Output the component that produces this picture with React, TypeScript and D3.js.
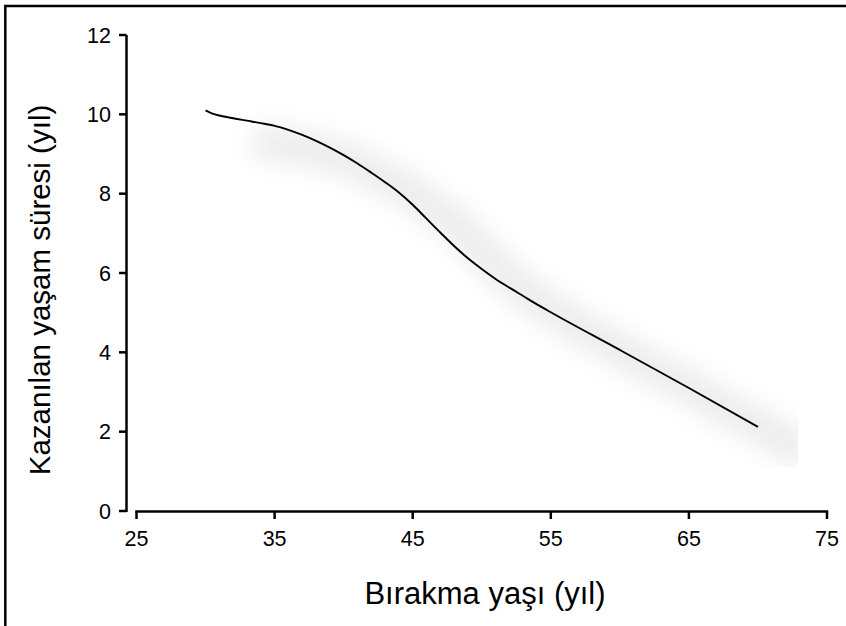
import React from "react";
import * as d3 from "d3";

const ages = [30, 30.5, 31, 32, 33, 34, 35, 36, 37, 38, 39, 40, 41, 42, 43, 44, 45, 46, 47, 48, 49, 50, 51, 52, 53, 54, 55, 60, 65, 70];
const gained = [10.1, 10.02, 9.97, 9.9, 9.84, 9.78, 9.71, 9.61, 9.48, 9.33, 9.16, 8.97, 8.76, 8.53, 8.29, 8.03, 7.72, 7.37, 7.02, 6.68, 6.37, 6.1, 5.85, 5.63, 5.42, 5.21, 5.01, 4.06, 3.1, 2.12];
const xTicks = [25, 35, 45, 55, 65, 75];
const yTicks = [0, 2, 4, 6, 8, 10, 12];
const xTitle = "Bırakma yaşı (yıl)";
const yTitle = "Kazanılan yaşam süresi (yıl)";

const W = 846;
const H = 626;
const FONT = "'Liberation Sans', Arial, Helvetica, sans-serif";

export default function App() {
  const x = d3.scaleLinear().domain([25, 75]).range([136.5, 827]);
  const y = d3.scaleLinear().domain([0, 12]).range([511, 35]);
  const pts = ages.map((a, i) => [a, gained[i]] as [number, number]);
  const line = d3
    .line<[number, number]>()
    .x((d) => x(d[0]))
    .y((d) => y(d[1]))
    .curve(d3.curveMonotoneX);
  const d = line(pts) || "";
  const axisX = 126.5;
  const axisY = 511.5;

  return (
    <svg
      width={W}
      height={H}
      style={{ position: "absolute", left: 0, top: 0, background: "#fff" }}
      fontFamily={FONT}
    >
      <defs>
        <filter id="sh" x="-30%" y="-30%" width="160%" height="160%">
          <feGaussianBlur stdDeviation="12" />
        </filter>
        <clipPath id="shclip">
          <rect x={0} y={0} width={798} height={467} />
        </clipPath>
      </defs>
      <rect x={5.3} y={6} width={900} height={700} fill="none" stroke="#000" strokeWidth={2.5} />

      <g clipPath="url(#shclip)">
        <path
          d={d}
          transform="translate(50,27)"
          fill="none"
          stroke="#ececec"
          strokeWidth={34}
          strokeLinecap="butt"
          filter="url(#sh)"
        />
      </g>

      {/* Y axis */}
      <line x1={axisX} x2={axisX} y1={y(12)} y2={y(0) + 1} stroke="#000" strokeWidth={2.5} />
      {yTicks.map((t) => (
        <g key={t}>
          <line x1={axisX - 7.5} x2={axisX} y1={y(t)} y2={y(t)} stroke="#000" strokeWidth={2.5} />
          <text x={111} y={y(t)} dy="0.36em" textAnchor="end" fontSize={21.5}>
            {t}
          </text>
        </g>
      ))}

      {/* X axis */}
      <line x1={x(25) - 1.2} x2={x(75) + 1.2} y1={axisY} y2={axisY} stroke="#000" strokeWidth={2.5} />
      {xTicks.map((t) => (
        <g key={t}>
          <line x1={x(t)} x2={x(t)} y1={axisY} y2={axisY + 7.5} stroke="#000" strokeWidth={2.5} />
          <text x={x(t)} y={545.5} textAnchor="middle" fontSize={21.5}>
            {t}
          </text>
        </g>
      ))}

      <path d={d} fill="none" stroke="#000" strokeWidth={1.9} />

      <text x={485} y={604} textAnchor="middle" fontSize={31}>
        {xTitle}
      </text>
      <text
        transform={`translate(50,${290}) rotate(-90)`}
        textAnchor="middle"
        fontSize={29.5}
      >
        {yTitle}
      </text>
    </svg>
  );
}
